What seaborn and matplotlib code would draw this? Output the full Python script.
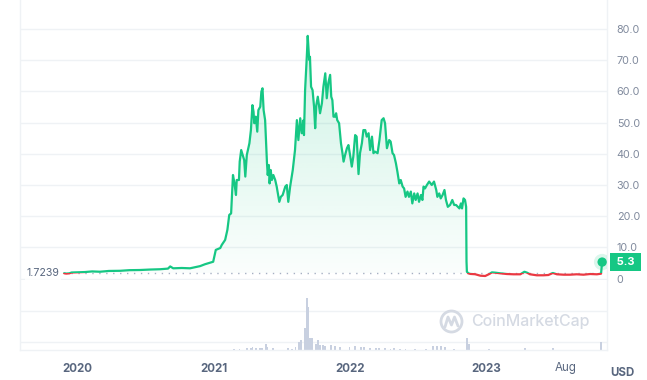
import numpy as np
import pandas as pd
import seaborn as sns
import matplotlib.pyplot as plt
import matplotlib.dates as mdates
import matplotlib.transforms as mtransforms
from matplotlib.patches import Rectangle, Circle, PathPatch
from matplotlib.path import Path

# price history, days counted from the first point
start = pd.Timestamp("2019-11-27")
day = [0, 6, 14, 20, 35, 56, 75, 96, 120, 150, 175, 203, 230, 257, 278, 284, 292, 315, 337,
       364, 377, 391, 399, 406, 418, 422, 431, 437, 442, 447, 452, 456, 460, 462, 468, 470,
       474, 478, 482, 485, 489, 496, 500, 504, 507, 509, 513, 517, 520, 525, 528, 531, 534,
       538, 543, 545, 548, 550, 553, 556, 560, 565, 569, 576, 580, 585, 592, 596, 600, 605,
       612, 618, 623, 627, 632, 636, 641, 642, 645, 650, 652, 656, 658, 661, 665, 669, 672,
       675, 679, 685, 690, 694, 699, 703, 707, 712, 715, 718, 721, 725, 728, 731, 736, 741,
       745, 748, 752, 757, 761, 766, 770, 774, 779, 783, 788, 792, 797, 801, 806, 810, 815,
       819, 824, 828, 832, 839, 844, 850, 855, 859, 864, 870, 874, 879, 883, 888, 892, 897,
       901, 906, 910, 914, 919, 923, 928, 932, 937, 941, 946, 950, 955, 959, 962, 966, 971,
       977, 984, 990, 996, 999, 1004, 1008, 1013, 1018, 1022, 1027, 1033, 1039, 1044, 1049,
       1054, 1058, 1062, 1065, 1069, 1073, 1076, 1077, 1078, 1082, 1087, 1100, 1114, 1127,
       1138, 1145, 1154, 1167, 1185, 1203, 1221, 1232, 1239, 1247, 1265, 1283, 1296, 1308,
       1319, 1337, 1354, 1372, 1390, 1408, 1426, 1437, 1440]
price = [1.72, 1.6, 1.68, 1.95, 2.0, 2.1, 2.3, 2.2, 2.45, 2.5, 2.7, 2.75, 2.9, 3.0, 3.2, 3.9,
         3.3, 3.4, 3.3, 4.0, 4.6, 5.1, 5.4, 9.2, 9.8, 10.8, 12.4, 15.6, 20.4, 20.9, 33.2, 30.5,
         26.8, 31.6, 31.6, 37.5, 41.2, 39.6, 38.0, 32.7, 39.6, 43.4, 47.6, 55.6, 53.5, 49.8,
         51.9, 47.1, 54.0, 55.1, 59.9, 61.0, 54.0, 50.8, 37.0, 33.2, 36.4, 30.5, 34.8, 31.6,
         33.2, 31.6, 29.5, 24.6, 26.2, 26.8, 29.5, 30.0, 24.6, 29.5, 34.8, 41.2, 50.8, 44.4,
         51.4, 46.6, 50.8, 46.0, 60.4, 72.2, 77.8, 70.1, 71.1, 61.5, 60.4, 55.1, 48.2, 55.6,
         58.3, 53.0, 56.2, 61.5, 65.8, 57.8, 62.6, 65.3, 58.3, 57.2, 51.9, 51.9, 53.0, 50.8,
         49.8, 43.4, 40.2, 37.5, 39.6, 41.8, 42.8, 39.1, 35.9, 39.1, 46.0, 45.5, 33.5, 40.2,
         43.4, 47.6, 47.6, 45.5, 46.6, 41.2, 45.5, 40.2, 40.7, 40.2, 44.4, 50.8, 51.4, 49.8,
         41.8, 44.4, 43.9, 40.2, 39.6, 37.0, 34.3, 30.5, 31.6, 29.5, 28.9, 26.2, 27.9, 26.2,
         27.9, 24.1, 27.3, 25.2, 27.3, 24.6, 26.8, 25.2, 29.5, 28.9, 30.0, 31.1, 30.0, 31.1,
         28.4, 26.2, 27.3, 25.7, 26.8, 28.4, 25.2, 23.0, 23.6, 25.2, 23.6, 23.6, 23.0, 22.5,
         24.1, 22.5, 25.7, 25.2, 23.0, 5.5, 2.2, 1.7, 1.5, 1.4, 0.93, 0.83, 1.47, 2.0, 1.9,
         1.7, 1.47, 1.38, 1.38, 2.2, 1.9, 1.38, 1.06, 1.06, 1.15, 1.8, 1.38, 1.25, 1.25, 1.38,
         1.25, 1.47, 1.38, 1.57, 5.3]

# trading volume (arbitrary units)
vol_day = [452, 471, 487, 498, 506, 514, 522, 530, 538, 546, 557, 597, 608, 621, 629, 636,
           645, 650, 654, 658, 666, 672, 681, 685, 693, 701, 712, 725, 739, 766, 779, 792,
           806, 819, 832, 846, 859, 873, 886, 899, 913, 940, 966, 988, 998, 1009, 1020, 1044,
           1078, 1081, 1140, 1231, 1309, 1440]
vol = [13, 10, 25, 20, 30, 25, 25, 20, 60, 30, 20, 20, 15, 30, 80, 100, 220, 520, 430, 120,
       120, 60, 100, 50, 50, 40, 50, 40, 30, 35, 40, 30, 30, 25, 20, 25, 20, 15, 20, 15, 10,
       10, 10, 40, 45, 40, 30, 10, 120, 60, 10, 25, 20, 80]

ref_price = 1.7239
price_ticks = [0, 10, 20, 30, 40, 50, 60, 70, 80]
price_labels = ["0", "10.0", "20.0", "30.0", "40.0", "50.0", "60.0", "70.0", "80.0"]
date_ticks = ["2020-01-01", "2021-01-01", "2022-01-01", "2023-01-01", "2023-08-01"]
date_labels = ["2020", "2021", "2022", "2023", "Aug"]

GREEN = "#16c784"
RED = "#ea3943"
GRID = "#eff2f5"
TEXT = "#58667e"

sns.set_theme(style="white")
plt.rcParams["font.family"] = ["Inter", "DejaVu Sans"]

W, H = 647, 380
fig = plt.figure(figsize=(W / 100, H / 100), dpi=100)
ax = fig.add_axes([20 / W, 1 - 280 / H, 587 / W, 280 / H])
axv = fig.add_axes([20 / W, 30 / H, 587 / W, 70 / H], sharex=ax)

df = pd.DataFrame({"date": start + pd.to_timedelta(day, unit="D"), "price": price})
xmin, xmax = pd.Timestamp("2019-08-01"), pd.Timestamp("2023-11-19")
x0, x1 = mdates.date2num(xmin), mdates.date2num(xmax)

# gradient fill under the line
fill = ax.fill_between(df["date"], df["price"], ref_price, where=df["price"] >= ref_price,
                       interpolate=True, color="none", lw=0)
clip = Path.make_compound_path(*fill.get_paths())
img = np.zeros((256, 1, 4))
img[:, :, :3] = np.array([22, 199, 132]) / 255
img[:, 0, 3] = np.linspace(0.02, 0.22, 256)
im = ax.imshow(img, extent=[x0, x1, ref_price, 80], origin="lower", aspect="auto", zorder=1)
im.set_clip_path(PathPatch(clip, transform=ax.transData))

# line: green above the reference price, red below
sns.lineplot(data=df, x="date", y="price", color=GREEN, lw=1.6, estimator=None, ax=ax, zorder=3)
ax.lines[-1].set_clip_path(Rectangle((x0, ref_price), x1 - x0, 200, transform=ax.transData))
sns.lineplot(data=df, x="date", y="price", color=RED, lw=1.6, estimator=None, ax=ax, zorder=3)
ax.lines[-1].set_clip_path(Rectangle((x0, -50), x1 - x0, 50 + ref_price, transform=ax.transData))

ax.plot([df["date"].iloc[0], df["date"].iloc[-1]], [ref_price, ref_price],
        ls=(0, (1, 4)), color="#a6b0c3", lw=1, zorder=2)

last = df.iloc[[-1]]
sns.scatterplot(data=last, x="date", y="price", s=140, color=GREEN, alpha=0.15,
                edgecolor="none", ax=ax, zorder=4)
sns.scatterplot(data=last, x="date", y="price", s=45, color=GREEN, edgecolor="none",
                ax=ax, zorder=5)

ax.set_xlim(xmin, xmax)
ax.set_ylim(-0.45, 89.3)
ax.set_yticks(price_ticks)
ax.set_yticklabels(price_labels)
ax.yaxis.tick_right()
ax.tick_params(axis="y", length=0, pad=7, labelsize=7.8, labelcolor="#808a9d")
ax.tick_params(axis="x", length=0, labelbottom=False)
ax.yaxis.grid(True, color=GRID, lw=1)
ax.xaxis.grid(False)
ax.set_xlabel("")
ax.set_ylabel("")
for s in ["top", "bottom"]:
    ax.spines[s].set_visible(False)
for s in ["left", "right"]:
    ax.spines[s].set_color(GRID)
    ax.spines[s].set_linewidth(1)

# volume panel
vdates = mdates.date2num(start + pd.to_timedelta(vol_day, unit="D"))
sns.histplot(x=vdates, weights=vol, binwidth=5, color="#c8d0e0", alpha=1,
             edgecolor="none", linewidth=0, ax=axv)
axv.set_ylim(0, 700)
axv.set_yticks([80, 390])
axv.set_yticklabels([])
axv.tick_params(axis="y", length=0)
axv.yaxis.grid(True, color=GRID, lw=1)
axv.set_ylabel("")
axv.set_xlabel("")
axv.set_xticks(mdates.date2num(pd.to_datetime(date_ticks)))
axv.set_xticklabels(date_labels)
axv.tick_params(axis="x", length=4, width=1, color="#e6e9ee", pad=5, labelsize=8.3,
                labelcolor=TEXT)
for lab in axv.get_xticklabels()[:4]:
    lab.set_fontweight("bold")
axv.spines["top"].set_visible(False)
for s in ["left", "right", "bottom"]:
    axv.spines[s].set_color(GRID)
    axv.spines[s].set_linewidth(1)

# labels
fig.text(622 / W, 1 - 373 / H, "USD", ha="center", va="center", fontsize=8.3,
         fontweight="bold", color=TEXT)
ytr = mtransforms.blended_transform_factory(fig.transFigure, ax.transData)
fig.text(43 / W, ref_price, "1.7239", transform=ytr, ha="center", va="center", fontsize=7.6,
         color=TEXT, bbox=dict(boxstyle="square,pad=0.15", fc="white", ec="none", alpha=0.85),
         zorder=6)
fig.text(625.5 / W, price[-1], " 5.3 ", transform=ytr, ha="center", va="center", fontsize=8,
         fontweight="bold", color="white",
         bbox=dict(boxstyle="square,pad=0.35", fc=GREEN, ec="none"))

# watermark
ov = fig.add_axes([0, 0, 1, 1], zorder=10)
ov.set_xlim(0, W)
ov.set_ylim(H, 0)
ov.axis("off")
ov.patch.set_alpha(0)
ov.add_patch(Circle((451.5, 321.5), 10.5, fill=False, ec="#d5dae3", lw=2))
ov.plot([445, 448, 451.5, 454.5, 458], [327, 317, 325, 317, 326], color="#d5dae3", lw=2,
        solid_capstyle="round", solid_joinstyle="round")
ov.text(471, 321.5, "CoinMarketCap", ha="left", va="center", fontsize=11.5, color="#d5dae3",
        fontweight="medium")

fig.savefig("out.png", dpi=100)
